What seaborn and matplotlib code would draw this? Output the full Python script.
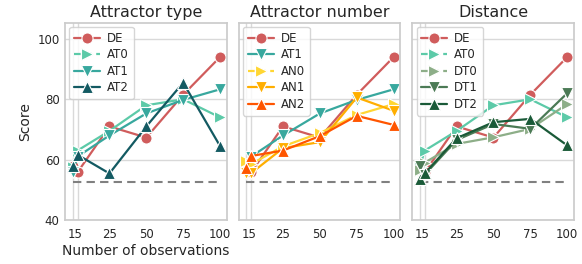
import pandas as pd
import numpy as np
import matplotlib
matplotlib.use("Agg")
import matplotlib.pyplot as plt
import seaborn as sns

# number of observations (two close settings both shown under "15")
n_obs = ["15a", "15", "25", "50", "75", "100"]
tick_labels = ["15", "25", "50", "75", "100"]
chance = 52.5

# scores
de = [58.0, 55.8, 71.0, 67.3, 81.5, 94.0]
at0 = [57.5, 63.0, 69.5, 78.0, 80.0, 74.0]
at1 = [56.0, 61.0, 68.0, 75.3, 79.8, 83.3]
at2 = [58.0, 61.6, 55.4, 71.0, 85.5, 64.5]
an0 = [59.5, 58.5, 64.4, 68.8, 74.8, 78.4]
an1 = [55.5, 55.5, 63.8, 65.8, 80.6, 76.2]
an2 = [57.2, 61.2, 63.0, 67.8, 74.5, 71.5]
dt0 = [56.5, 59.0, 65.2, 67.4, 70.2, 78.4]
dt1 = [58.0, 55.0, 66.5, 71.8, 70.2, 82.0]
dt2 = [53.7, 55.4, 67.1, 72.4, 73.5, 64.7]

panels = [
    ("Attractor type", {"DE": de, "AT0": at0, "AT1": at1, "AT2": at2}),
    ("Attractor number", {"DE": de, "AT1": at1, "AN0": an0, "AN1": an1, "AN2": an2}),
    ("Distance", {"DE": de, "AT0": at0, "DT0": dt0, "DT1": dt1, "DT2": dt2}),
]

colors = {"DE": "#d05c5c", "AT0": "#5ccaa8", "AT1": "#38a89e", "AT2": "#135a62",
          "AN0": "#ffd633", "AN1": "#ffae00", "AN2": "#ff5500",
          "DT0": "#8dae88", "DT1": "#4b7a55", "DT2": "#1a5a38"}
markers = {"DE": "o", "AT0": ">", "AT1": "v", "AT2": "^",
           "AN0": ">", "AN1": "v", "AN2": "^",
           "DT0": ">", "DT1": "v", "DT2": "^"}

# axis position of each setting
xpos = dict(zip(n_obs, [0.0, 0.135, 1, 2, 3, 4]))

sns.set_theme(style="whitegrid")
plt.rcParams["font.family"] = ["DejaVu Sans"]

fig, axes = plt.subplots(1, 3, figsize=(5.82, 2.64), dpi=100, sharey=True)
fig.subplots_adjust(left=0.112, right=0.986, bottom=0.167, top=0.913, wspace=0.075)

for ax, (title, series) in zip(axes, panels):
    rows = []
    for name, vals in series.items():
        for n, v in zip(n_obs, vals):
            rows.append({"n": n, "pos": xpos[n], "score": v, "model": name})
    df = pd.DataFrame(rows)
    names = list(series.keys())
    sns.lineplot(data=df, x="pos", y="score", hue="model", style="model",
                 hue_order=names, style_order=names,
                 palette={k: colors[k] for k in names},
                 markers={k: markers[k] for k in names}, dashes=False,
                 markersize=8, markeredgecolor="white", markeredgewidth=0.8,
                 linewidth=1.6, ax=ax)
    ax.hlines(chance, xpos[n_obs[0]], xpos[n_obs[-1]], colors="gray",
              linestyles=(0, (4, 2.5)), linewidth=1.5, zorder=1)

    ax.set_title(title, fontsize=11.5, pad=4)
    ax.set_xlim(-0.2, 4.18)
    ax.set_ylim(40, 105.3)
    ax.set_yticks([40, 60, 80, 100])
    ax.set_xticks([xpos["15a"] / 2 + xpos["15"] / 2, 1, 2, 3, 4])
    ax.set_xticklabels(tick_labels)
    ax.set_xticks(list(xpos.values()), minor=True)
    ax.grid(axis="x", which="major", visible=False)
    ax.grid(axis="x", which="minor", visible=True, color="#d9d9d9", linewidth=1)
    ax.grid(axis="y", color="#d9d9d9", linewidth=1)
    ax.tick_params(axis="x", which="both", labelsize=8.5, length=0, pad=6)
    ax.tick_params(axis="y", which="both", labelsize=8.5, length=0, pad=4)
    ax.set_xlabel("")
    ax.set_ylabel("")
    for sp in ax.spines.values():
        sp.set_color("#cccccc")

    leg = ax.legend(loc="upper left", fontsize=8.5, frameon=True,
                    borderpad=0.4, labelspacing=0.3, handlelength=2.2,
                    handletextpad=0.6, borderaxespad=0.35)
    for h, t in zip(leg.get_lines(), leg.get_texts()):
        if t.get_text().endswith("0"):
            h.set_linestyle((0, (3, 2)))

axes[0].set_ylabel("Score", fontsize=10)
axes[0].set_xlabel("Number of observations", fontsize=10, labelpad=2)

fig.savefig("out.png", dpi=100)
